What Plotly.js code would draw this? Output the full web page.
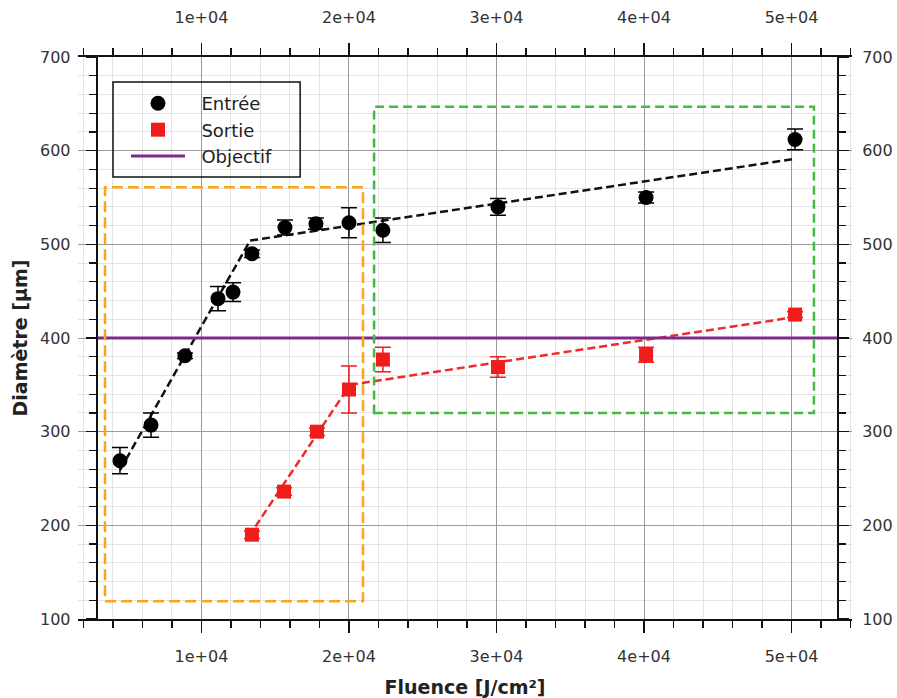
<!DOCTYPE html>
<html>
<head>
<meta charset="utf-8">
<script src="https://cdn.plot.ly/plotly-3.0.1.min.js"></script>
<style>html,body{margin:0;padding:0;background:#fff;}#chart{width:897px;height:698px;}</style>
</head>
<body>
<div id="chart"></div>
<script>
// ---- data ----
const fluenceEntree  = [4475, 6580, 8880, 11120, 12140, 13420, 15660, 17760, 20000, 22300, 30100, 40140, 50240];
const diametreEntree = [269, 307, 381, 442, 449, 490, 518, 522, 523, 515, 540, 550, 612];
const erreurEntree   = [14, 13, 3, 13, 10, 4, 8, 6, 16, 13, 9, 6, 11];

const fluenceSortie  = [13420, 15600, 17830, 20000, 22300, 30100, 40140, 50240];
const diametreSortie = [190, 236, 300, 345, 377, 369, 382, 425];
const erreurSortie   = [4, 4, 4, 25, 13, 11, 8, 3];

const objectif = 400;

// fitted dashed segments
const fitEntree1X = [4475, 13300];
const fitEntree1Y = [259, 504];
const fitEntree2X = [13300, 50100];
const fitEntree2Y = [504, 591];
const fitSortie1X = [13200, 20070];
const fitSortie1Y = [188, 350];
const fitSortie2X = [20070, 50100];
const fitSortie2Y = [350, 422];

// highlighted zones
const zoneOrangeX = [3460, 20950];
const zoneOrangeY = [119, 561];
const zoneVerteX  = [21700, 51520];
const zoneVerteY  = [320, 647];

// axes
const xRange = [1630, 54100];
const yRange = [100, 700];
const xFrame = [2900, 53150];
const xTickVals = [10000, 20000, 30000, 40000, 50000];
const xTickText = ['1e+04', '2e+04', '3e+04', '4e+04', '5e+04'];
const yTickVals = [100, 200, 300, 400, 500, 600, 700];

const FONT = 'DejaVu Sans, Verdana, sans-serif';
const posL = (xFrame[0] - xRange[0]) / (xRange[1] - xRange[0]);
const posR = (xFrame[1] - xRange[0]) / (xRange[1] - xRange[0]);
const NB = '\u00a0\u00a0';

const traces = [
  {x: fitEntree1X, y: fitEntree1Y, mode: 'lines', line: {color: '#111', width: 2.5, dash: '8px,4px'}, showlegend: false, hoverinfo: 'skip'},
  {x: fitEntree2X, y: fitEntree2Y, mode: 'lines', line: {color: '#111', width: 2.5, dash: '8px,4px'}, showlegend: false, hoverinfo: 'skip'},
  {x: fitSortie1X, y: fitSortie1Y, mode: 'lines', line: {color: '#ee2a2a', width: 2.5, dash: '8px,4px'}, showlegend: false, hoverinfo: 'skip'},
  {x: fitSortie2X, y: fitSortie2Y, mode: 'lines', line: {color: '#ee2a2a', width: 2.5, dash: '8px,4px'}, showlegend: false, hoverinfo: 'skip'},
  {x: fluenceEntree, y: diametreEntree, name: NB + 'Entrée', mode: 'markers', type: 'scatter',
   marker: {symbol: 'circle', size: 15, color: '#000'},
   error_y: {type: 'data', array: erreurEntree, visible: true, color: '#000', thickness: 1.5, width: 8}},
  {x: fluenceSortie, y: diametreSortie, name: NB + 'Sortie', mode: 'markers', type: 'scatter',
   marker: {symbol: 'square', size: 14, color: '#f01c1c'},
   error_y: {type: 'data', array: erreurSortie, visible: true, color: '#f01c1c', thickness: 1.5, width: 8}},
  {x: xFrame, y: [objectif, objectif], name: NB + 'Objectif', mode: 'lines', line: {color: '#7d2a8c', width: 3}},
  // secondary axes carriers
  {x: xFrame, y: yRange, xaxis: 'x2', yaxis: 'y2', mode: 'markers', marker: {opacity: 0}, showlegend: false, hoverinfo: 'skip'}
];

const tickFont = {family: FONT, size: 16, color: '#333'};
const titleFont = {family: FONT, size: 19, color: '#222', weight: 'bold'};

const layout = {
  width: 897, height: 698,
  margin: {l: 78, r: 45, t: 57, b: 79, pad: 0},
  paper_bgcolor: '#fff', plot_bgcolor: '#fff',
  showlegend: true,
  legend: {x: 0.062, y: 0.95, xanchor: 'left', yanchor: 'top', bgcolor: 'rgba(0,0,0,0)', borderwidth: 0,
           font: {family: FONT, size: 18, color: '#222'}, itemwidth: 54},
  xaxis: {
    range: xRange, tickmode: 'array', tickvals: xTickVals, ticktext: xTickText,
    showline: true, linecolor: '#111', linewidth: 2, mirror: false,
    ticks: 'outside', ticklen: 12, tickwidth: 1.5, tickcolor: '#111',
    showgrid: true, gridcolor: '#9a9a9a', gridwidth: 1, zeroline: false,
    ticklabelstandoff: 10, tickfont: tickFont,
    minor: {tickmode: 'linear', tick0: 0, dtick: 2000, ticks: 'outside', ticklen: 7, tickcolor: '#111', tickwidth: 1.2,
            showgrid: true, gridcolor: '#e4e4e4', gridwidth: 1},
    title: {text: 'Fluence [J/cm²]', font: titleFont, standoff: 15}
  },
  xaxis2: {
    range: xRange, overlaying: 'x', side: 'top', anchor: 'y', matches: 'x',
    tickmode: 'array', tickvals: xTickVals, ticktext: xTickText,
    showline: true, linecolor: '#111', linewidth: 2,
    ticks: 'outside', ticklen: 12, tickwidth: 1.5, tickcolor: '#111',
    showgrid: false, zeroline: false, ticklabelstandoff: 14, tickfont: tickFont,
    minor: {tickmode: 'linear', tick0: 0, dtick: 2000, ticks: 'outside', ticklen: 7, tickcolor: '#111', tickwidth: 1.2, showgrid: false}
  },
  yaxis: {
    range: yRange, anchor: 'free', position: posL, side: 'left',
    tickmode: 'array', tickvals: yTickVals,
    showline: true, linecolor: '#111', linewidth: 2,
    ticks: 'outside', ticklen: 10, tickwidth: 1.5, tickcolor: '#111',
    showgrid: true, gridcolor: '#9a9a9a', gridwidth: 1, zeroline: false,
    ticklabelstandoff: 12, tickfont: tickFont,
    minor: {tickmode: 'linear', tick0: 0, dtick: 20, ticks: 'outside', ticklen: 7, tickcolor: '#111', tickwidth: 1.2,
            showgrid: true, gridcolor: '#e4e4e4', gridwidth: 1},
    title: {text: 'Diamètre [µm]', font: titleFont, standoff: 6}
  },
  yaxis2: {
    range: yRange, overlaying: 'y', anchor: 'free', position: posR, side: 'right', matches: 'y',
    tickmode: 'array', tickvals: yTickVals,
    showline: true, linecolor: '#111', linewidth: 2,
    ticks: 'outside', ticklen: 10, tickwidth: 1.5, tickcolor: '#111',
    showgrid: false, zeroline: false, ticklabelstandoff: 10, tickfont: tickFont,
    minor: {tickmode: 'linear', tick0: 0, dtick: 20, ticks: 'outside', ticklen: 7, tickcolor: '#111', tickwidth: 1.2, showgrid: false}
  },
  shapes: [
    // hide grid outside the vertical axis frame
    {type: 'rect', xref: 'paper', yref: 'paper', x0: 0, x1: posL, y0: 0.002, y1: 0.998, fillcolor: '#fff', line: {width: 0}, layer: 'between'},
    {type: 'rect', xref: 'paper', yref: 'paper', x0: posR, x1: 1, y0: 0.002, y1: 0.998, fillcolor: '#fff', line: {width: 0}, layer: 'between'},
    {type: 'rect', xref: 'x', yref: 'y', x0: zoneOrangeX[0], x1: zoneOrangeX[1], y0: zoneOrangeY[0], y1: zoneOrangeY[1],
     line: {color: '#ffa31a', width: 2.5, dash: '11px,5px'}, layer: 'above'},
    {type: 'rect', xref: 'x', yref: 'y', x0: zoneVerteX[0], x1: zoneVerteX[1], y0: zoneVerteY[0], y1: zoneVerteY[1],
     line: {color: '#44b944', width: 2.5, dash: '9px,5px'}, layer: 'above'},
    // legend frame
    {type: 'rect', xref: 'paper', yref: 'paper', x0: 0.0452, x1: 0.287, y0: 0.7865, y1: 0.9555,
     line: {color: '#111', width: 1.5}, layer: 'above'}
  ]
};

Plotly.newPlot('chart', traces, layout, {staticPlot: true});
</script>
</body>
</html>
